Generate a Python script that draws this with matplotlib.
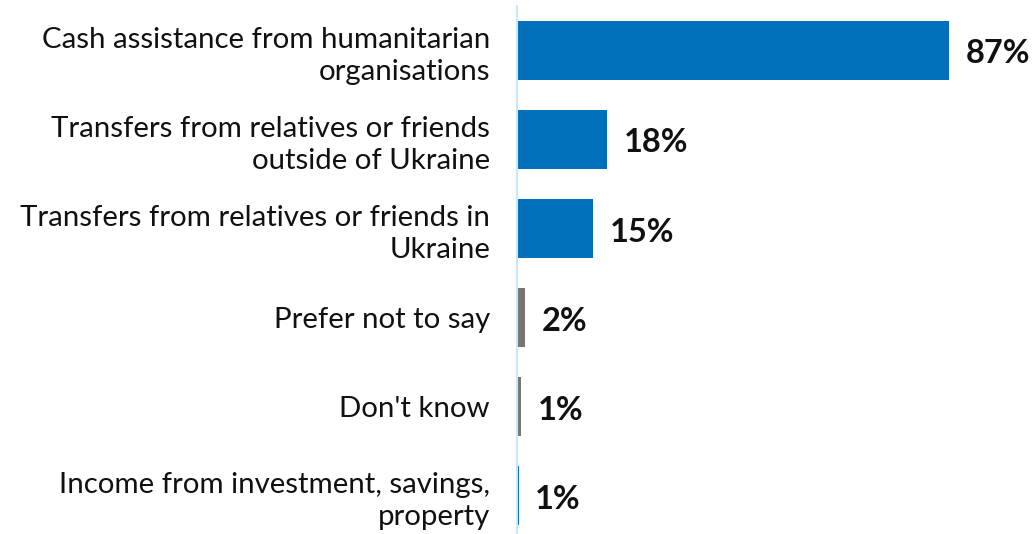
import matplotlib.pyplot as plt

plt.rcParams['font.family'] = ['Lato', 'DejaVu Sans']

categories = [
    "Cash assistance from humanitarian\norganisations",
    "Transfers from relatives or friends\noutside of Ukraine",
    "Transfers from relatives or friends in\nUkraine",
    "Prefer not to say",
    "Don't know",
    "Income from investment, savings,\nproperty",
]
values = [87, 18.1, 15.3, 1.6, 0.8, 0.3]
value_labels = ["87%", "18%", "15%", "2%", "1%", "1%"]
colors = ["#0070BA", "#0070BA", "#0070BA", "#767676", "#767676", "#0070BA"]

fig = plt.figure(figsize=(10.33, 5.34), dpi=100)
ax = fig.add_axes([0.5005, -0.012, 0.4995, 1.001])

y = list(range(len(categories)))
bars = ax.barh(y, values, height=0.66, color=colors)

# etykiety wartości obok słupków
for bar, lab in zip(bars, value_labels):
    ax.annotate(lab, (bar.get_width(), bar.get_y() + bar.get_height() / 2),
                xytext=(12, -2.5), textcoords='offset points',
                ha='left', va='center', fontsize=23.5, fontweight='bold', color='#111111')

ax.set_xlim(0, 103.9)
ax.set_ylim(len(categories) - 0.5, -0.5)
ax.set_yticks(y)
ax.set_yticklabels(categories, fontsize=21.2, color='#111111', ha='right', linespacing=1.28)
ax.tick_params(axis='y', length=0, pad=19.4)
ax.set_xticks([])

for s in ['top', 'right', 'bottom']:
    ax.spines[s].set_visible(False)
ax.spines['left'].set_color('#cfe6f5')
ax.spines['left'].set_linewidth(1.5)

fig.savefig('out.png', dpi=100)
